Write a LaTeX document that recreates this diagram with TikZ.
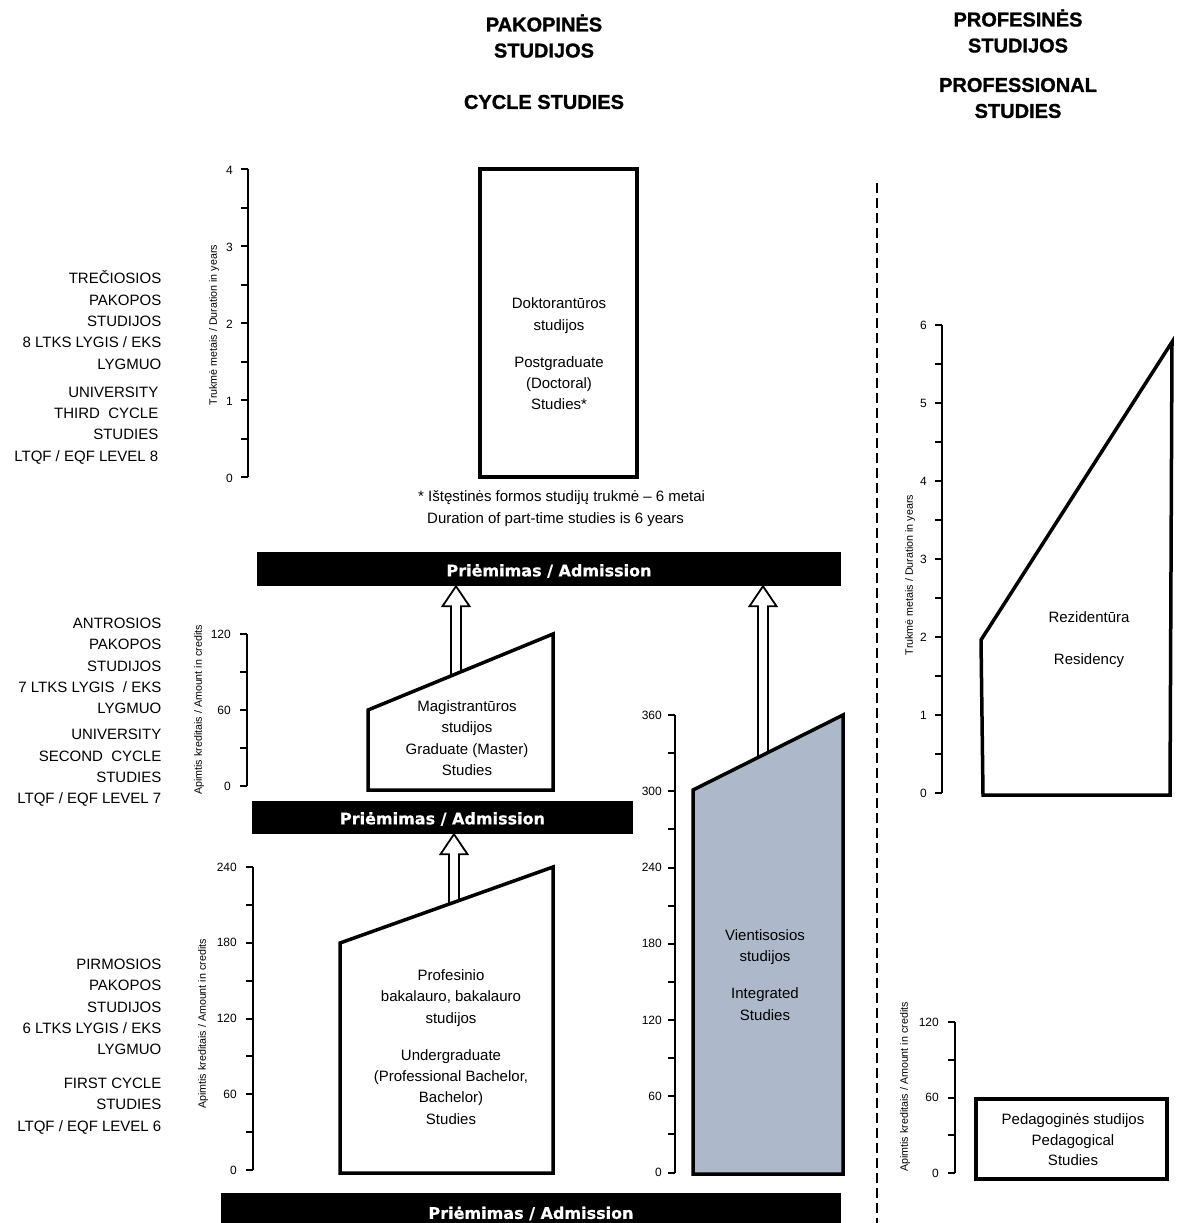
\documentclass[tikz,border=0pt]{standalone}
\usepackage{fontspec}
\setmainfont{Liberation Sans}
\newfontfamily\admfont{DejaVu Sans}[BoldFeatures={FakeBold=0.6}]
\newfontfamily\hdrfont{Liberation Sans}[BoldFeatures={FakeBold=1.2}]
\usetikzlibrary{calc}
\definecolor{intfill}{HTML}{ADB9CA}

\newcommand\hollowarrow[2]{%
  \draw[harrow] let \p1=(#1), \p2=(#2) in
    (\x1-5pt,\y1) -- (\x1-5pt,\y2-20pt) -- (\x1-13.5pt,\y2-20pt) -- (\x1,\y2)
    -- (\x1+13.5pt,\y2-20pt) -- (\x1+5pt,\y2-20pt) -- (\x1+5pt,\y1) -- cycle;}

\tikzset{
  txt/.style={font=\fontsize{15}{21.3}\selectfont, align=center, inner sep=0pt},
  lbl/.style={font=\fontsize{15}{21.3}\selectfont, align=right, inner sep=0pt, anchor=east},
  hdr/.style={font=\hdrfont\bfseries\fontsize{20}{26}\selectfont, align=center, inner sep=0pt},
  ticklab/.style={font=\fontsize{12}{12}\selectfont, inner sep=0pt, anchor=east},
  axlab/.style={font=\fontsize{10.7}{12}\selectfont, inner sep=0pt, rotate=90},
  axisline/.style={line width=2pt},
  shapebox/.style={line width=3.5pt, fill=white, line join=miter},
  admbar/.style={fill=black, text=white, font=\admfont\bfseries\fontsize{16}{16}\selectfont,
    inner sep=0pt, text height=11.7pt, text depth=0pt},
  harrow/.style={line width=1.8pt, fill=white, line join=miter},
  divider/.style={line width=2.5pt, dash pattern=on 10pt off 5pt},
}

\begin{document}
\begin{tikzpicture}[x=1pt,y=-1pt]
\useasboundingbox[fill=white] (0,0) rectangle (1176,1223);

% ---------- headers ----------
\node[hdr] (h1) at (544,36) {PAKOPINĖS\\STUDIJOS};
\node[hdr] (h2) at (544,102) {CYCLE STUDIES};
\node[hdr] (h3) at (1018,31) {PROFESINĖS\\STUDIJOS};
\node[hdr] (h4) at (1018,98) {PROFESSIONAL\\STUDIES};

% ---------- divider ----------
\coordinate (d1) at (877,183);
\coordinate (d2) at (877,1223);
\draw[divider] (d1) -- (d2);

% ---------- left level labels ----------
\node[lbl] (l3a) at (161.5,320) {TREČIOSIOS\\PAKOPOS\\STUDIJOS\\8 LTKS LYGIS / EKS\\LYGMUO};
\node[lbl] (l3b) at (158.5,425.5) {UNIVERSITY\\THIRD\ \ CYCLE\\STUDIES\\LTQF / EQF LEVEL 8};
\node[lbl] (l2a) at (161.5,666) {ANTROSIOS\\PAKOPOS\\STUDIJOS\\7 LTKS LYGIS\ \ / EKS\\LYGMUO};
\node[lbl] (l2b) at (161.5,768) {UNIVERSITY\\SECOND\ \ CYCLE\\STUDIES\\LTQF / EQF LEVEL 7};
\node[lbl] (l1a) at (161.5,1007) {PIRMOSIOS\\PAKOPOS\\STUDIJOS\\6 LTKS LYGIS / EKS\\LYGMUO};
\node[lbl] (l1b) at (161.5,1106) {FIRST CYCLE\\STUDIES\\LTQF / EQF LEVEL 6};

% ---------- axes ----------
% doctoral (years)
\draw[axisline] (248,169) -- (248,477);
\foreach \i in {0,...,8} \draw[axisline] (241,{477-\i*38.5}) -- (248,{477-\i*38.5});
\foreach \v in {0,...,4} \node[ticklab] at (233,{478-\v*77}) {\v};
\node[axlab] (ax1) at (214,325) {Trukmė metais / Duration in years};

% master (credits)
\draw[axisline] (247,634) -- (247,786);
\foreach \i in {0,...,4} \draw[axisline] (240,{786-\i*38}) -- (247,{786-\i*38});
\foreach \v in {0,60,120} \node[ticklab] at (231,{786-\v/30*38}) {\v};
\node[axlab] (ax2) at (199,710) {Apimtis kreditais / Amount in credits};

% bachelor (credits)
\draw[axisline] (253,867) -- (253,1170);
\foreach \i in {0,...,8} \draw[axisline] (246,{1170-\i*37.875}) -- (253,{1170-\i*37.875});
\foreach \v in {0,60,120,180,240} \node[ticklab] at (237,{1170-\v/30*37.875}) {\v};
\node[axlab] (ax3) at (203,1024) {Apimtis kreditais / Amount in credits};

% integrated (credits)
\draw[axisline] (675,715) -- (675,1172.5);
\foreach \i in {0,...,12} \draw[axisline] (668,{1172.5-\i*38.125}) -- (675,{1172.5-\i*38.125});
\foreach \v in {0,60,120,180,240,300,360} \node[ticklab] at (662,{1172.5-\v/30*38.125}) {\v};

% residency (years)
\draw[axisline] (942,325) -- (942,793);
\foreach \i in {0,...,12} \draw[axisline] (935,{793-\i*39}) -- (942,{793-\i*39});
\foreach \v in {0,...,6} \node[ticklab] at (927,{793-\v*78}) {\v};
\node[axlab] (ax4) at (910,575) {Trukmė metais / Duration in years};

% pedagogical (credits)
\draw[axisline] (955,1022) -- (955,1173);
\foreach \i in {0,...,4} \draw[axisline] (948,{1173-\i*37.75}) -- (955,{1173-\i*37.75});
\foreach \v in {0,60,120} \node[ticklab] at (939,{1173-\v/30*37.75}) {\v};
\node[axlab] (ax5) at (905,1087) {Apimtis kreditais / Amount in credits};

% ---------- admission bars ----------
\node[admbar, minimum width=584pt, minimum height=34pt] (adm1) at (549,569) {\raisebox{-1.5pt}{Priėmimas / Admission}};
\node[admbar, minimum width=381pt, minimum height=33pt] (adm2) at (442.5,817.5) {\raisebox{-1pt}{Priėmimas / Admission}};
\node[admbar, minimum width=620pt, minimum height=38pt] (adm3) at (531,1212) {\raisebox{-1pt}{Priėmimas / Admission}};

% ---------- arrows ----------
\coordinate (a1b) at (456,690);
\coordinate (a1t) at (adm1.south -| a1b);
\coordinate (a2b) at (763,770);
\coordinate (a2t) at (adm1.south -| a2b);
\coordinate (a3b) at (454,915);
\coordinate (a3t) at (adm2.south -| a3b);
\hollowarrow{a1b}{a1t}
\hollowarrow{a2b}{a2t}
\hollowarrow{a3b}{a3t}

% ---------- study shapes ----------
\draw[shapebox] (480,169) rectangle (637,477);
\node[txt] (doc) at (559,354) {Doktorantūros\\studijos\\[15.7pt]Postgraduate\\(Doctoral)\\Studies*};

\node[txt, anchor=west] (fn1) at (418,498) {* Ištęstinės formos studijų trukmė – 6 metai};
\node[txt, anchor=west] (fn2) at (427,520) {Duration of part-time studies is 6 years};

\draw[shapebox] (368,790) -- (368,710) -- (553,634) -- (553,790) -- cycle;
\node[txt] (mag) at (467,738) {Magistrantūros\\studijos\\Graduate (Master)\\Studies};

\draw[shapebox] (340,1173) -- (340,943) -- (553,867) -- (553,1173) -- cycle;
\node[txt] (bak) at (451,1047) {Profesinio\\bakalauro, bakalauro\\studijos\\[15.7pt]Undergraduate\\(Professional Bachelor,\\Bachelor)\\Studies};

\draw[shapebox, fill=intfill] (693,1174) -- (693,790) -- (843,715) -- (843,1174) -- cycle;
\node[txt] (vie) at (765,975) {Vientisosios\\studijos\\[15.7pt]Integrated\\Studies};

\draw[shapebox] (983,795) -- (981,640) -- (1172,342) -- (1170,795) -- cycle;
\node[txt] (rez) at (1089,640) {Rezidentūra\\[20.7pt]Residency};

\draw[shapebox] (976,1099) rectangle (1167,1179);
\node[txt, font=\fontsize{15}{20.5}\selectfont] (ped) at (1073,1140) {Pedagoginės studijos\\Pedagogical\\Studies};
\end{tikzpicture}
\end{document}
